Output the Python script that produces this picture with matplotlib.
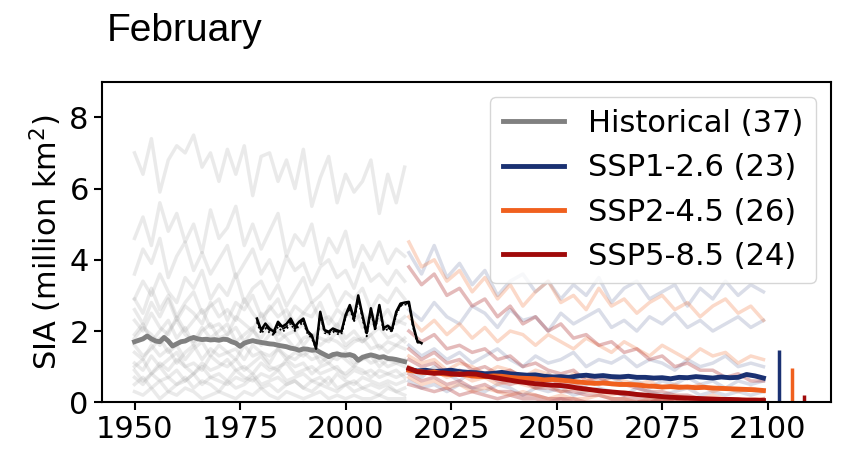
import numpy as np
import matplotlib
matplotlib.use("Agg")
import matplotlib.pyplot as plt

# ---- data ----
# ensemble means
hist_mean = [1.70, 1.74, 1.78, 1.86, 1.78, 1.72, 1.70, 1.82, 1.72, 1.58,
             1.64, 1.70, 1.72, 1.78, 1.82, 1.78, 1.76, 1.77, 1.75, 1.76,
             1.74, 1.77, 1.76, 1.70, 1.66, 1.57, 1.66, 1.70, 1.73, 1.70,
             1.68, 1.66, 1.64, 1.63, 1.60, 1.58, 1.56, 1.52, 1.50, 1.46,
             1.50, 1.49, 1.46, 1.47, 1.40, 1.34, 1.28, 1.34, 1.36, 1.33,
             1.32, 1.34, 1.30, 1.18, 1.26, 1.30, 1.33, 1.30, 1.26, 1.28,
             1.23, 1.22, 1.20, 1.17, 1.14]  # 1950-2014

ssp126_mean = [0.92, 0.88, 0.90, 0.86, 0.88, 0.90, 0.86, 0.84, 0.83, 0.80,
               0.81, 0.84, 0.80, 0.78, 0.76, 0.77, 0.73, 0.71, 0.72, 0.70,
               0.74, 0.76, 0.73, 0.75, 0.72, 0.71, 0.73, 0.70, 0.70, 0.68,
               0.69, 0.66, 0.70, 0.69, 0.72, 0.70, 0.68, 0.71, 0.69, 0.70,
               0.78, 0.74, 0.68]  # 2015-2099, every 2 yr
ssp245_mean = [0.90, 0.86, 0.84, 0.85, 0.80, 0.78, 0.80, 0.76, 0.73, 0.72,
               0.74, 0.73, 0.70, 0.68, 0.67, 0.66, 0.63, 0.64, 0.62, 0.60,
               0.57, 0.55, 0.53, 0.54, 0.52, 0.50, 0.50, 0.49, 0.46, 0.45,
               0.43, 0.44, 0.42, 0.43, 0.41, 0.42, 0.40, 0.39, 0.38, 0.37,
               0.36, 0.35, 0.33]
ssp585_mean = [0.95, 0.86, 0.84, 0.81, 0.83, 0.80, 0.78, 0.80, 0.79, 0.74,
               0.70, 0.66, 0.62, 0.58, 0.55, 0.52, 0.50, 0.48, 0.47, 0.44,
               0.40, 0.37, 0.34, 0.31, 0.29, 0.27, 0.25, 0.22, 0.20, 0.18,
               0.16, 0.14, 0.13, 0.12, 0.11, 0.10, 0.09, 0.08, 0.08, 0.07,
               0.06, 0.06, 0.05]

# observations 1979-2018 (three products)
obs_a = [2.35, 2.03, 2.21, 2.07, 1.98, 2.26, 2.12, 2.20, 2.35, 2.12,
         2.26, 2.35, 2.00, 1.88, 1.51, 2.54, 2.03, 1.98, 2.07, 2.02,
         1.98, 2.45, 2.73, 2.36, 3.00, 2.45, 1.94, 2.64, 2.08, 2.73,
         2.08, 2.15, 2.05, 2.54, 2.77, 2.80, 2.82, 2.17, 1.72, 1.66]
obs_b = [2.30, 2.00, 2.15, 2.02, 1.92, 2.20, 2.05, 2.12, 2.28, 2.05,
         2.20, 2.30, 1.95, 1.85, 1.55, 2.48, 2.00, 1.95, 2.02, 1.98,
         1.95, 2.40, 2.70, 2.30, 2.95, 2.40, 1.90, 2.60, 2.05, 2.70,
         2.05, 2.10, 2.00, 2.50, 2.72, 2.76, 2.78, 2.12, 1.70, 1.64]
obs_c = [2.25, 1.92, 2.08, 1.95, 1.88, 2.12, 1.98, 2.05, 2.22, 2.00,
         2.15, 2.25, 1.92, 1.80, 1.50, 2.45, 1.95, 1.90, 1.98, 1.92,
         1.90, 2.38, 2.65, 2.25, 2.92, 2.35, 1.85, 2.55, 2.00, 2.65,
         2.00, 2.05, 1.98, 2.45, 2.70, 2.74, 2.75, 2.10, 1.68, 1.62]

# individual historical runs, every 2 yr 1950-2014
hist_runs = [
    [7.0, 6.4, 7.4, 5.9, 6.8, 7.2, 7.0, 7.5, 6.6, 7.0, 6.2, 7.1, 6.4, 7.2, 5.8, 6.9, 7.0,
     6.2, 6.8, 6.0, 7.1, 5.5, 6.3, 6.9, 5.6, 6.4, 5.9, 6.2, 6.8, 5.3, 6.4, 5.6, 6.6],
    [4.6, 5.2, 4.4, 5.6, 4.8, 5.3, 4.5, 5.0, 4.2, 5.4, 4.6, 4.9, 5.5, 4.4, 5.0, 4.3, 4.8,
     5.3, 4.1, 4.7, 4.4, 5.0, 3.9, 4.6, 4.2, 4.8, 3.8, 4.4, 4.0, 4.5, 3.9, 4.3, 4.1],
    [3.6, 4.3, 3.9, 4.6, 3.5, 4.1, 4.5, 3.7, 4.2, 3.6, 4.0, 4.4, 3.5, 3.9, 4.3, 3.6, 4.0,
     3.4, 4.1, 3.7, 3.9, 3.3, 3.8, 4.0, 3.5, 3.7, 3.2, 3.9, 3.4, 3.6, 3.3, 3.7, 3.4],
    [2.9, 3.4, 3.0, 3.6, 3.1, 2.8, 3.5, 3.2, 3.7, 2.9, 3.3, 3.0, 3.6, 2.8, 3.2, 3.4, 2.9,
     3.3, 2.7, 3.1, 3.5, 2.8, 3.0, 3.3, 2.7, 3.1, 2.9, 3.2, 2.6, 3.0, 2.8, 3.2, 2.9],
    [2.9, 2.5, 3.2, 2.6, 3.0, 2.4, 2.8, 3.1, 2.5, 2.7, 2.9, 2.3, 2.8, 2.6, 3.0, 2.4, 2.6,
     2.9, 2.3, 2.7, 2.5, 2.4, 2.8, 2.2, 2.6, 2.4, 2.7, 2.1, 2.5, 2.3, 2.6, 2.2, 2.4],
    [2.6, 2.2, 2.8, 2.4, 2.9, 2.3, 2.7, 2.5, 2.2, 2.8, 2.4, 2.6, 2.3, 2.9, 2.5, 2.2, 2.7,
     2.4, 2.6, 2.2, 2.5, 2.8, 2.3, 2.4, 2.1, 2.6, 2.3, 2.5, 2.2, 2.4, 2.1, 2.3, 2.2],
    [2.3, 2.0, 2.5, 2.1, 1.9, 2.4, 2.0, 2.3, 2.6, 2.1, 2.2, 1.9, 2.4, 2.2, 2.0, 2.5, 2.1,
     1.9, 2.3, 2.0, 2.2, 1.8, 2.1, 1.9, 2.2, 1.8, 2.0, 1.7, 1.9, 2.1, 1.8, 1.9, 1.7],
    [1.9, 2.2, 1.7, 2.0, 2.3, 1.8, 2.1, 1.6, 2.0, 2.2, 1.8, 1.9, 2.1, 1.7, 2.0, 1.8, 2.2,
     1.7, 1.9, 2.0, 1.6, 1.9, 1.8, 1.7, 2.0, 1.6, 1.8, 1.7, 1.9, 1.5, 1.7, 1.6, 1.8],
    [1.8, 2.1, 1.9, 1.6, 2.0, 2.3, 1.9, 1.7, 2.1, 1.8, 2.0, 2.2, 1.7, 1.9, 2.1, 1.6, 1.9,
     2.0, 1.8, 1.5, 1.8, 1.9, 1.6, 1.8, 1.7, 1.5, 1.7, 1.8, 1.5, 1.6, 1.4, 1.6, 1.5],
    [1.6, 1.3, 1.5, 1.8, 1.4, 1.6, 1.2, 1.5, 1.7, 1.3, 1.6, 1.4, 1.5, 1.2, 1.6, 1.4, 1.3,
     1.5, 1.2, 1.4, 1.3, 1.5, 1.1, 1.3, 1.2, 1.4, 1.1, 1.2, 1.3, 1.0, 1.2, 1.1, 1.2],
    [1.4, 1.2, 1.6, 1.3, 1.5, 1.1, 1.4, 1.6, 1.2, 1.5, 1.3, 1.4, 1.2, 1.6, 1.3, 1.4, 1.1,
     1.5, 1.3, 1.2, 1.4, 1.2, 1.3, 1.1, 1.4, 1.2, 1.0, 1.3, 1.1, 1.2, 1.0, 1.1, 1.0],
    [1.1, 0.9, 1.3, 1.0, 1.2, 1.4, 1.0, 1.1, 0.9, 1.3, 1.1, 1.0, 1.2, 0.9, 1.1, 1.3, 1.0,
     0.9, 1.2, 1.0, 1.1, 0.8, 1.0, 1.1, 0.9, 0.8, 1.0, 0.9, 0.7, 0.9, 0.8, 0.7, 0.8],
    [1.0, 1.2, 0.8, 1.1, 0.9, 1.2, 1.0, 0.8, 1.1, 0.9, 1.0, 1.2, 0.9, 1.0, 0.8, 1.1, 0.9,
     1.0, 1.1, 0.8, 0.9, 1.0, 0.8, 0.9, 1.0, 0.7, 0.9, 0.8, 0.9, 0.7, 0.8, 0.9, 0.7],
    [0.9, 0.6, 0.8, 1.0, 0.7, 0.9, 0.6, 0.8, 1.0, 0.7, 0.8, 0.6, 0.9, 0.7, 0.6, 0.8, 0.7,
     0.9, 0.6, 0.7, 0.8, 0.6, 0.7, 0.5, 0.8, 0.6, 0.5, 0.7, 0.6, 0.5, 0.6, 0.5, 0.6],
    [0.7, 0.5, 0.8, 0.6, 0.7, 0.5, 0.6, 0.8, 0.5, 0.7, 0.6, 0.5, 0.7, 0.6, 0.8, 0.5, 0.6,
     0.7, 0.5, 0.6, 0.4, 0.6, 0.5, 0.7, 0.4, 0.5, 0.6, 0.4, 0.5, 0.4, 0.5, 0.3, 0.4],
    [0.5, 0.7, 0.4, 0.6, 0.3, 0.5, 0.7, 0.4, 0.6, 0.5, 0.3, 0.6, 0.4, 0.5, 0.7, 0.4, 0.5,
     0.3, 0.5, 0.6, 0.4, 0.3, 0.5, 0.4, 0.3, 0.5, 0.3, 0.4, 0.3, 0.2, 0.4, 0.3, 0.2],
    [0.3, 0.2, 0.4, 0.1, 0.3, 0.2, 0.4, 0.3, 0.1, 0.2, 0.3, 0.2, 0.1, 0.3, 0.2, 0.4, 0.2,
     0.1, 0.3, 0.2, 0.1, 0.2, 0.3, 0.1, 0.2, 0.1, 0.2, 0.1, 0.1, 0.2, 0.1, 0.1, 0.1],
]

# individual scenario runs, every 3 yr 2015-2099
ssp126_runs = [
    [4.2, 3.6, 4.4, 3.5, 3.9, 3.3, 3.7, 3.0, 3.4, 3.6, 3.1, 3.4, 2.9, 3.3, 3.0,
     3.5, 2.8, 3.2, 3.4, 2.9, 3.1, 3.3, 2.7, 3.2, 2.9, 3.4, 3.0, 3.3, 3.1],
    [2.6, 2.3, 2.8, 2.4, 2.2, 2.7, 2.5, 2.1, 2.6, 2.3, 2.4, 2.0, 2.5, 2.2, 2.4,
     2.6, 2.1, 2.3, 2.0, 2.4, 2.2, 2.5, 2.1, 2.3, 2.0, 2.2, 2.4, 2.1, 2.3],
    [1.6, 1.3, 1.5, 1.2, 1.4, 1.1, 1.3, 1.5, 1.2, 1.0, 1.3, 1.1, 1.2, 1.4, 1.0,
     1.2, 1.1, 1.3, 1.0, 1.2, 1.1, 0.9, 1.2, 1.0, 1.1, 1.3, 1.0, 1.1, 1.0],
    [0.9, 0.7, 1.0, 0.8, 0.6, 0.9, 0.7, 0.8, 0.6, 0.7, 0.5, 0.8, 0.6, 0.7, 0.5,
     0.6, 0.7, 0.5, 0.6, 0.4, 0.6, 0.5, 0.7, 0.5, 0.6, 0.4, 0.6, 0.5, 0.6],
    [0.6, 0.4, 0.5, 0.3, 0.5, 0.4, 0.3, 0.5, 0.4, 0.2, 0.4, 0.3, 0.4, 0.2, 0.3,
     0.4, 0.3, 0.2, 0.4, 0.3, 0.2, 0.3, 0.4, 0.2, 0.3, 0.2, 0.3, 0.2, 0.3],
]
ssp245_runs = [
    [4.5, 3.8, 4.0, 3.4, 3.7, 3.1, 3.5, 2.9, 3.3, 2.7, 3.1, 3.4, 2.8, 3.0, 2.6,
     3.2, 2.7, 2.9, 2.5, 2.8, 3.0, 2.6, 2.8, 2.4, 2.7, 2.9, 2.5, 2.7, 2.3],
    [2.4, 2.0, 2.3, 1.9, 2.2, 1.8, 2.1, 1.7, 2.0, 1.9, 1.6, 1.9, 1.7, 1.5, 1.8,
     1.6, 1.4, 1.7, 1.5, 1.3, 1.6, 1.4, 1.2, 1.5, 1.3, 1.4, 1.1, 1.3, 1.2],
    [1.3, 1.1, 1.2, 0.9, 1.1, 1.0, 0.8, 1.0, 0.9, 0.7, 0.9, 0.8, 0.6, 0.8, 0.7,
     0.5, 0.7, 0.6, 0.5, 0.6, 0.4, 0.5, 0.4, 0.5, 0.3, 0.4, 0.3, 0.4, 0.3],
    [1.0, 0.8, 0.9, 0.7, 0.8, 0.6, 0.7, 0.5, 0.6, 0.5, 0.4, 0.5, 0.3, 0.4, 0.3,
     0.3, 0.2, 0.3, 0.2, 0.2, 0.1, 0.2, 0.1, 0.1, 0.2, 0.1, 0.1, 0.1, 0.1],
    [0.7, 0.5, 0.6, 0.4, 0.5, 0.3, 0.4, 0.3, 0.2, 0.3, 0.2, 0.1, 0.2, 0.1, 0.1,
     0.2, 0.1, 0.1, 0.0, 0.1, 0.0, 0.1, 0.0, 0.0, 0.1, 0.0, 0.0, 0.0, 0.0],
]
ssp585_runs = [
    [3.8, 3.3, 3.6, 3.0, 3.2, 2.7, 2.9, 2.4, 2.7, 2.2, 2.4, 2.0, 2.2, 1.8, 1.9,
     1.6, 1.7, 1.4, 1.5, 1.2, 1.3, 1.0, 1.1, 0.9, 0.9, 0.7, 0.8, 0.6, 0.6],
    [2.0, 1.7, 1.9, 1.5, 1.6, 1.4, 1.5, 1.2, 1.3, 1.0, 1.1, 0.9, 0.8, 0.9, 0.6,
     0.7, 0.5, 0.5, 0.4, 0.3, 0.3, 0.2, 0.2, 0.1, 0.1, 0.1, 0.1, 0.0, 0.1],
    [1.5, 1.2, 1.4, 1.1, 1.2, 0.9, 1.0, 0.8, 0.9, 0.7, 0.6, 0.7, 0.5, 0.5, 0.4,
     0.3, 0.3, 0.2, 0.2, 0.1, 0.1, 0.1, 0.0, 0.1, 0.0, 0.0, 0.0, 0.0, 0.0],
    [1.2, 1.0, 1.1, 0.8, 0.9, 0.7, 0.8, 0.6, 0.5, 0.6, 0.4, 0.4, 0.3, 0.3, 0.2,
     0.2, 0.1, 0.1, 0.1, 0.0, 0.1, 0.0, 0.0, 0.0, 0.0, 0.0, 0.0, 0.0, 0.0],
    [0.8, 0.6, 0.7, 0.5, 0.6, 0.4, 0.5, 0.3, 0.3, 0.2, 0.2, 0.1, 0.1, 0.1, 0.0,
     0.0, 0.0, 0.0, 0.0, 0.0, 0.0, 0.0, 0.0, 0.0, 0.0, 0.0, 0.0, 0.0, 0.0],
    [0.5, 0.4, 0.3, 0.4, 0.2, 0.3, 0.2, 0.1, 0.2, 0.1, 0.1, 0.0, 0.1, 0.0, 0.0,
     0.0, 0.0, 0.0, 0.0, 0.0, 0.0, 0.0, 0.0, 0.0, 0.0, 0.0, 0.0, 0.0, 0.0],
]

# short bars right of 2100
bar_years = [2102.7, 2105.7, 2108.7]
bar_heights = [1.46, 0.95, 0.20]

labels = ["Historical (37)", "SSP1-2.6 (23)", "SSP2-4.5 (26)", "SSP5-8.5 (24)"]
col_hist = "#808080"
col_126 = "#1a3172"
col_245 = "#f0601e"
col_585 = "#a00a0a"

# ---- x positions ----
yrs_hist = np.arange(1950, 2015)
yrs_hist_runs = np.arange(1950, 2015, 2)
yrs_ssp = np.arange(2015, 2100, 2)
yrs_ssp_runs = np.arange(2015, 2100, 3)
yrs_obs = np.arange(1979, 2019)

fig = plt.figure(figsize=(8.41, 4.51), dpi=100)
ax = fig.add_axes([0.1213, 0.108, 0.8668, 0.711])

# faint individual runs
for run in hist_runs:
    ax.plot(yrs_hist_runs, run, color="#9a9a9a", alpha=0.2, lw=2.5)
for runs, c, a in [(ssp126_runs, col_126, 0.16), (ssp245_runs, col_245, 0.24),
                   (ssp585_runs, col_585, 0.28)]:
    for run in runs:
        ax.plot(yrs_ssp_runs, run, color=c, alpha=a, lw=2.5)

# means
ax.plot(yrs_hist, hist_mean, color=col_hist, lw=3.5, label=labels[0])
ax.plot(yrs_ssp, ssp126_mean, color=col_126, lw=3.5, label=labels[1])
ax.plot(yrs_ssp, ssp245_mean, color=col_245, lw=3.5, label=labels[2])
ax.plot(yrs_ssp, ssp585_mean, color=col_585, lw=3.5, label=labels[3])

# observations
ax.plot(yrs_obs, obs_a, color="black", lw=1.8, ls="-")
ax.plot(yrs_obs, obs_b, color="black", lw=1.3, ls="--")
ax.plot(yrs_obs, obs_c, color="black", lw=1.3, ls=":")

ax.vlines(bar_years, 0, bar_heights, colors=[col_126, col_245, col_585], lw=2.5)

ax.set_xlim(1942.3, 2115)
ax.set_ylim(0, 9)
ax.set_xticks([1950, 1975, 2000, 2025, 2050, 2075, 2100])
ax.set_yticks([0, 2, 4, 6, 8])
ax.tick_params(labelsize=22, length=6, width=1.5)
for s in ax.spines.values():
    s.set_linewidth(1.5)
ax.set_ylabel("SIA (million km$^2$)", fontsize=22)

ax.legend(loc="upper right", fontsize=22, handlelength=2.0, framealpha=0.8)

fig.text(107 / 841, 1 - 41 / 451, "February", fontsize=28,
         family="Liberation Sans", va="baseline")

fig.savefig("out.png", dpi=100)
